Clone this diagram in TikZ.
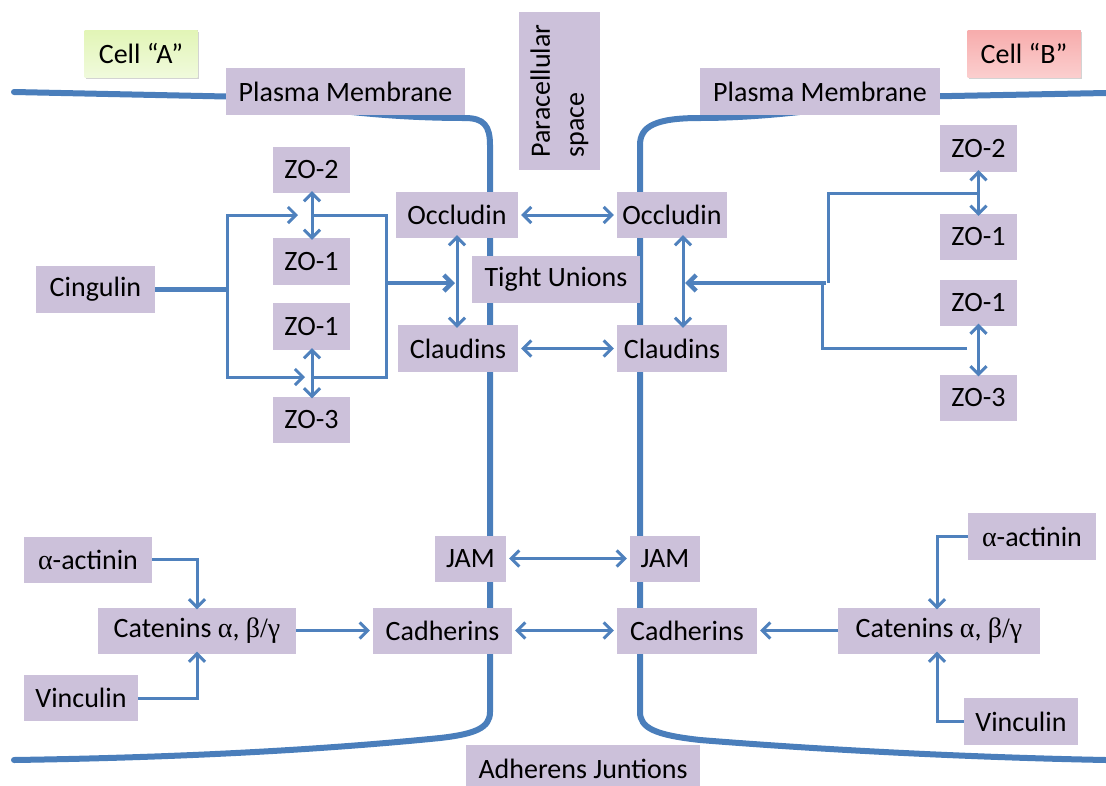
\documentclass[tikz,border=0pt]{standalone}
\usepackage{fontspec}
\setmainfont{Carlito}
\newfontfamily\grk{Liberation Serif}
\usetikzlibrary{arrows.meta,shadows}

\definecolor{boxfill}{RGB}{204,193,218}
\definecolor{linkblue}{RGB}{79,129,189}
\definecolor{membrane}{RGB}{74,126,187}
\definecolor{greenTop}{RGB}{226,245,182}
\definecolor{greenBot}{RGB}{240,250,220}
\definecolor{redTop}{RGB}{247,172,172}
\definecolor{redBot}{RGB}{251,206,206}

\tikzset{
  box/.style={fill=boxfill, inner sep=0pt, font=\fontsize{28}{32}\selectfont},
  cellbox/.style={box, drop shadow={shadow xshift=1.5pt, shadow yshift=-2pt, opacity=0.35}},
  memline/.style={draw=membrane, line width=6pt, line cap=round, line join=round},
  link/.style={draw=linkblue, line width=3pt},
  thick link/.style={draw=linkblue, line width=4.5pt},
  tip/.style={-{Straight Barb[length=8pt,width=16pt]}},
  tips/.style={{Straight Barb[length=8pt,width=16pt]}-{Straight Barb[length=8pt,width=16pt]}},
}

\begin{document}
\begin{tikzpicture}[x=1pt,y=-1pt]
\useasboundingbox (0,0) rectangle (1106,785);

% cell membranes
\path[memline] (14,92) -- (250,97) .. controls (330,112) and (400,118) .. (465,118)
  .. controls (484,118) and (490,126) .. (490,145) -- (490,712)
  .. controls (490,728) and (475,734) .. (440,738)
  .. controls (300,752) and (150,758) .. (14,760);
\path[memline] (1106,93) -- (900,97) .. controls (820,112) and (750,118) .. (700,118)
  .. controls (656,118) and (640,126) .. (640,145) -- (640,712)
  .. controls (640,728) and (655,735) .. (700,740)
  .. controls (850,752) and (1000,758) .. (1106,760);

% labels of the two cells
\node[cellbox, shading=axis, top color=greenTop, bottom color=greenBot,
      minimum width=113pt, minimum height=47pt] (cellA) at (141,53.5) {Cell “A”};
\node[cellbox, shading=axis, top color=redTop, bottom color=redBot,
      minimum width=113pt, minimum height=47pt] (cellB) at (1024,53.5) {Cell “B”};

% plasma membrane and paracellular space
\node[box, minimum width=239pt, minimum height=47pt] (pmL) at (345.5,91.5) {Plasma Membrane};
\node[box, minimum width=240pt, minimum height=47pt] (pmR) at (820,91.5) {Plasma Membrane};
\node[box, rotate=90, align=left, minimum width=158pt, minimum height=81pt,
      font=\fontsize{28}{34}\selectfont] (para) at (559.5,91) {Paracellular\\space};

% tight junction proteins
\node[box, minimum width=77pt, minimum height=46pt] (zo2L) at (311.5,170) {ZO-2};
\node[box, minimum width=77pt, minimum height=47pt] (zo1La) at (311.5,261.5) {ZO-1};
\node[box, minimum width=77pt, minimum height=47pt] (zo1Lb) at (311.5,326.5) {ZO-1};
\node[box, minimum width=77pt, minimum height=46pt] (zo3L) at (311.5,419.5) {ZO-3};
\node[box, minimum width=119pt, minimum height=47pt] (cing) at (95.5,289.5) {Cingulin};
\node[box, minimum width=122pt, minimum height=46pt] (occL) at (457,215) {Occludin};
\node[box, minimum width=110pt, minimum height=46pt] (occR) at (672,215) {Occludin};
\node[box, minimum width=168pt, minimum height=47pt] (tight) at (556,279.5) {Tight Unions};
\node[box, minimum width=120pt, minimum height=47pt] (clL) at (458,348.5) {Claudins};
\node[box, minimum width=110pt, minimum height=47pt] (clR) at (672,348.5) {Claudins};
\node[box, minimum width=77pt, minimum height=47pt] (zo2R) at (978.5,148.5) {ZO-2};
\node[box, minimum width=77pt, minimum height=46pt] (zo1Ra) at (978.5,237) {ZO-1};
\node[box, minimum width=77pt, minimum height=46pt] (zo1Rb) at (978.5,302.5) {ZO-1};
\node[box, minimum width=77pt, minimum height=46pt] (zo3R) at (978.5,397.5) {ZO-3};

% adherens junction proteins
\node[box, minimum width=128pt, minimum height=46pt] (actL) at (88,559.5) {{\grk α}-actinin};
\node[box, minimum width=71pt, minimum height=46pt] (jamL) at (470.5,558.5) {JAM};
\node[box, minimum width=70pt, minimum height=46pt] (jamR) at (665,558.5) {JAM};
\node[box, minimum width=128pt, minimum height=47pt] (actR) at (1032,536.5) {{\grk α}-actinin};
\node[box, minimum width=198pt, minimum height=46pt] (catL) at (197,630.5) {Catenins {\grk α}, {\grk β/γ}};
\node[box, minimum width=139pt, minimum height=46pt] (cadL) at (442.5,630.5) {Cadherins};
\node[box, minimum width=140pt, minimum height=46pt] (cadR) at (687,630.5) {Cadherins};
\node[box, minimum width=202pt, minimum height=46pt] (catR) at (939,630.5) {Catenins {\grk α}, {\grk β/γ}};
\node[box, minimum width=114pt, minimum height=46pt] (vinL) at (81,698) {Vinculin};
\node[box, minimum width=114pt, minimum height=47pt] (vinR) at (1021,721.5) {Vinculin};
\node[box, minimum width=234pt, minimum height=48pt] (adh) at (583,769) {Adherens Juntions};

% branch points of the scaffold connectors
\coordinate (splitL) at (227,289.5);
\coordinate (bracketL) at (386,283);
\coordinate (splitR) at (826,283);

% left scaffold: cingulin to ZO proteins, then to occludin/claudins
\draw[thick link] (cing.east) -- (splitL);
\draw[link, tip] (splitL) -- (227,215) -- (298,215);
\draw[link, tip] (splitL) -- (227,377) -- (305,377);
\draw[link, tips] ([xshift=0.5pt,yshift=2pt]zo2L.south) -- ([xshift=0.5pt,yshift=-2pt]zo1La.north);
\draw[link, tips] ([xshift=0.5pt,yshift=2pt]zo1Lb.south) -- ([xshift=0.5pt,yshift=-2pt]zo3L.north);
\draw[link] (312,215) -- (386,215) -- (386,377) -- (312,377);
\draw[thick link, tip] (bracketL) -- (455,283);
\draw[link, tips] ([yshift=3pt]occL.south) -- ([yshift=-3pt]occL.south |- clL.north);

% right scaffold
\draw[link, tips] ([xshift=11pt,yshift=3pt]occR.south) -- ([xshift=11pt,yshift=-3pt]occR.south |- clR.north);
\draw[thick link, tip] (splitR) -- (685,283);
\draw[link] (978,193) -- (828,193) -- (828,283);
\draw[link] (967,348) -- (822,348) -- (822,281);
\draw[link, tips] ([yshift=2pt]zo2R.south) -- ([yshift=-2pt]zo1Ra.north);
\draw[link, tips] ([yshift=2pt]zo1Rb.south) -- ([yshift=-2pt]zo3R.north);

% links across the paracellular space
\draw[link, tips] ([xshift=3pt]occL.east) -- ([xshift=-3pt]occR.west);
\draw[link, tips] ([xshift=3pt]clL.east) -- ([xshift=-3pt]clR.west);
\draw[link, tips] ([xshift=3pt]jamL.east) -- ([xshift=-3pt]jamR.west);
\draw[link, tips] ([xshift=3pt]cadL.east) -- ([xshift=-3pt]cadR.west);

% catenin complexes
\draw[link, tip] (actL.east) -- (197,559.5) -- ([yshift=-2pt]catL.north);
\draw[link, tip] (vinL.east) -- (197,698) -- ([yshift=2pt]catL.south);
\draw[link, tip] (catL.east) -- ([xshift=-3pt]cadL.west);
\draw[link, tip] (actR.west) -- (937,536.5) -- ([xshift=-2pt,yshift=-2pt]catR.north);
\draw[link, tip] (vinR.west) -- (937,721.5) -- ([xshift=-2pt,yshift=2pt]catR.south);
\draw[link, tip] (catR.west) -- ([xshift=3pt]cadR.east);
\end{tikzpicture}
\end{document}
